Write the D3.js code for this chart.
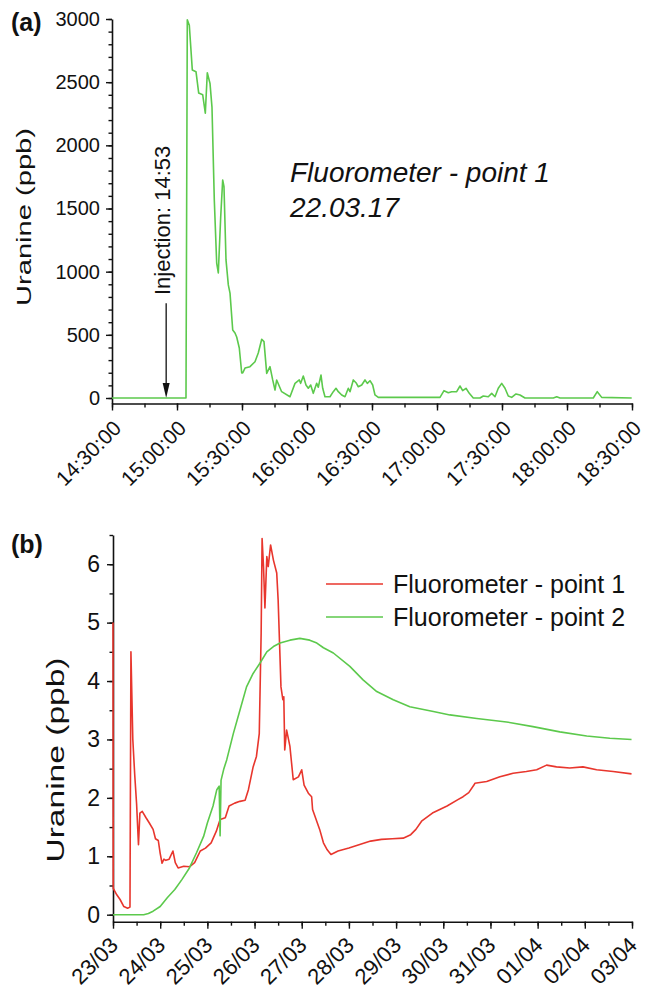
<!DOCTYPE html>
<html>
<head>
<meta charset="utf-8">
<script src="https://cdnjs.cloudflare.com/ajax/libs/d3/7.8.5/d3.min.js"></script>
<style>
  body { margin: 0; background: #fff; }
  svg text { font-family: "Liberation Sans", Arial, sans-serif; fill: #111; }
  .axis path, .axis line { stroke: #111; }
</style>
</head>
<body>
<div id="graph"></div>
<script>
// panel (a) - point 1 on 22.03.17
var aTimes = ["14:30:00","15:04:09","15:04:45","15:05:41","15:07:04","15:08:46","15:10:01","15:11:52","15:13:04",
  "15:13:59","15:15:14","15:16:09","15:17:13","15:18:19","15:19:04","15:20:10","15:21:05","15:21:41","15:22:37",
  "15:23:41","15:24:28","15:25:43","15:26:46","15:27:33","15:28:45","15:29:52","15:30:19","15:31:23","15:33:41",
  "15:36:00","15:37:30","15:39:06","15:40:09","15:41:24","15:42:55","15:44:10","15:45:14","15:46:00","15:48:18",
  "15:52:09","15:54:28","15:56:27","15:57:05","15:58:17","15:59:32","16:00:36","16:01:42","16:02:54","16:04:28",
  "16:05:12","16:06:28","16:07:15","16:08:18","16:10:37","16:12:08","16:13:23","16:14:27","16:16:01","16:17:32",
  "16:19:04","16:19:51","16:21:22","16:22:37","16:23:41","16:25:15","16:26:46","16:27:50","16:29:05","16:30:19",
  "16:31:23","16:32:54","17:01:23","17:03:14","17:05:13","17:06:47","17:09:05","17:10:37","17:11:51","17:13:23",
  "17:14:54","17:16:45","17:19:51","17:21:22","17:23:40","17:25:15","17:26:46","17:28:17","17:29:52","17:31:23",
  "17:32:54","17:34:28","17:36:28","17:38:18","17:40:37","17:53:41","17:55:15","17:56:46","18:12:08","18:13:58",
  "18:16:01","18:29:52"];
var aValues = [0,0,2993,2950,2597,2583,2414,2400,2255,
  2575,2490,2300,1567,1068,990,1433,1726,1673,1093,
  895,830,538,515,483,396,198,198,237,248,
  287,356,465,446,195,248,143,63,143,50,
  10,116,143,116,174,103,77,103,37,116,
  85,182,77,10,10,50,77,50,24,10,
  77,50,143,121,89,103,143,116,137,103,
  24,5,5,58,42,50,50,95,58,77,
  37,0,0,16,10,37,10,77,116,77,
  16,5,32,24,0,0,10,0,0,50,
  5,0];
var injectionTime = "14:55:00";

// panel (b) - days after 23/03/2017 00:00
var startDay = "2017-03-23", endDay = "2017-04-03";
var redDays = [0,0.005,0.08,0.15,0.23,0.31,0.36,0.38,0.42,0.46,0.5,0.54,0.57,0.62,0.7,0.77,0.85,0.9,0.96,1.0,
  1.04,1.08,1.12,1.19,1.27,1.32,1.38,1.5,1.62,1.73,1.85,1.96,2.08,2.19,2.27,2.38,2.46,2.58,2.69,2.8,
  2.87,2.97,3.04,3.1,3.14,3.16,3.19,3.22,3.26,3.29,3.34,3.4,3.47,3.5,3.56,3.6,3.62,3.64,3.68,3.75,
  3.82,3.93,4.0,4.05,4.14,4.21,4.23,4.38,4.46,4.54,4.62,4.77,5.0,5.23,5.46,5.69,5.92,6.15,6.31,6.42,
  6.54,6.77,7.08,7.31,7.42,7.54,7.65,7.67,7.92,8.2,8.48,8.76,8.98,9.19,9.4,9.68,9.96,10.25,10.6,10.99];
var redValues = [5.0,0.45,0.34,0.26,0.14,0.11,0.13,4.5,3.0,2.4,1.9,1.2,1.74,1.77,1.66,1.57,1.46,1.3,1.27,1.05,
  0.88,0.95,0.93,0.95,1.09,0.89,0.8,0.83,0.82,0.89,1.09,1.14,1.23,1.43,1.63,1.66,1.86,1.91,1.94,1.96,
  2.14,2.53,2.71,3.1,4.82,6.44,5.96,5.25,6.13,5.96,6.33,6.07,5.85,5.39,3.9,3.68,3.73,2.82,3.16,2.88,
  2.31,2.36,2.48,2.22,2.08,2.02,1.8,1.46,1.23,1.11,1.03,1.09,1.14,1.2,1.26,1.29,1.3,1.31,1.37,1.46,
  1.6,1.74,1.86,1.97,2.02,2.09,2.22,2.25,2.28,2.36,2.42,2.45,2.48,2.56,2.53,2.51,2.53,2.48,2.45,2.41];
var greenDays = [0,0.65,0.75,0.85,1.0,1.15,1.31,1.46,1.62,1.77,1.92,2.0,2.12,2.2,2.25,2.27,2.29,2.35,2.41,2.55,
  2.69,2.83,2.97,3.11,3.26,3.4,3.54,3.75,3.96,4.17,4.32,4.46,4.67,5.02,5.3,5.59,5.94,6.29,6.79,7.14,
  7.71,8.34,8.9,9.47,10.04,10.53,10.99];
var greenValues = [0,0,0.02,0.06,0.14,0.29,0.43,0.6,0.8,1.06,1.34,1.57,1.86,2.14,2.2,1.35,2.3,2.5,2.65,3.1,
  3.5,3.9,4.13,4.3,4.5,4.59,4.65,4.7,4.73,4.7,4.65,4.57,4.48,4.25,4.02,3.82,3.68,3.56,3.48,3.42,
  3.36,3.3,3.22,3.13,3.06,3.02,3.0];
var seriesNames = ["Fluorometer - point 1", "Fluorometer - point 2"];
var seriesColors = ["#e8362d", "#5cc94c"];

var width = 650, height = 994,
    svg = d3.select('#graph').append('svg')
        .attr('width', width).attr('height', height);

var parseTime = d3.timeParse("%H:%M:%S"),
    parseDay = d3.timeParse("%Y-%m-%d");

// ---------- (a) ----------
var xa = d3.scaleTime()
        .domain([parseTime("14:30:00"), parseTime("18:30:00")])
        .range([112, 632]),
    ya = d3.scaleLinear().domain([-43.5, 3000]).range([403.5, 19]);

var ga = svg.append('g');

// minor ticks
ga.append('g').attr('class', 'axis')
    .attr('transform', 'translate(0,403.5)')
    .call(d3.axisBottom(xa).ticks(d3.timeMinute.every(15)).tickSize(4).tickSizeOuter(0).tickFormat(''))
    .selectAll('path').remove();
ga.append('g').attr('class', 'axis')
    .attr('transform', 'translate(112,0)')
    .call(d3.axisLeft(ya).tickValues(d3.range(0, 3001, 100)).tickSize(3.5).tickSizeOuter(0).tickFormat(''))
    .selectAll('path').remove();

var xAxisA = ga.append('g').attr('class', 'axis')
    .attr('transform', 'translate(0,403.5)')
    .call(d3.axisBottom(xa).ticks(d3.timeMinute.every(30)).tickSize(7).tickSizeOuter(0)
        .tickFormat(d3.timeFormat("%H:%M:%S")));
xAxisA.selectAll('text')
    .attr('x', 0).attr('y', 0).attr('dy', 0)
    .attr('text-anchor', 'end')
    .attr('transform', 'translate(10,26) rotate(-45)')
    .style('font-size', '21px');

var yAxisA = ga.append('g').attr('class', 'axis')
    .attr('transform', 'translate(112,0)')
    .call(d3.axisLeft(ya).tickValues(d3.range(0, 3001, 500)).tickSize(6).tickPadding(6).tickSizeOuter(0)
        .tickFormat(d3.format('d')));
yAxisA.selectAll('text').style('font-size', '20px');
ga.selectAll('.axis path').attr('stroke-width', 1.6);
ga.selectAll('.axis line').attr('stroke-width', 1.4);

var lineA = d3.line()
    .x(function (d) { return xa(d.t); })
    .y(function (d) { return ya(d.v); });
var dataA = aTimes.map(function (t, i) { return {t: parseTime(t), v: aValues[i]}; });

// injection arrow
var injX = xa(parseTime(injectionTime));
ga.append('line')
    .attr('x1', injX).attr('x2', injX)
    .attr('y1', ya(750)).attr('y2', ya(0) - 12)
    .attr('stroke', '#111').attr('stroke-width', 1.3);
ga.append('path')
    .attr('d', 'M' + injX + ',' + ya(0) + 'l-3.5,-15l7,0z')
    .attr('fill', '#111');

ga.append('path').datum(dataA)
    .attr('d', lineA)
    .attr('fill', 'none')
    .attr('stroke', seriesColors[1])
    .attr('stroke-width', 1.6)
    .attr('stroke-linejoin', 'round');

ga.append('text')
    .attr('transform', 'translate(' + (injX + 4) + ',295) rotate(-90)')
    .style('font-size', '22px')
    .text('Injection: 14:53');

ga.append('text')
    .attr('transform', 'translate(31,217) rotate(-90)')
    .attr('text-anchor', 'middle')
    .attr('textLength', 178).attr('lengthAdjust', 'spacingAndGlyphs')
    .style('font-size', '21px')
    .text('Uranine (ppb)');

ga.append('text').attr('x', 290).attr('y', 182)
    .style('font-size', '28px').style('font-style', 'italic')
    .text('Fluorometer - point 1');
ga.append('text').attr('x', 290).attr('y', 217)
    .style('font-size', '28px').style('font-style', 'italic')
    .text('22.03.17');

ga.append('text').attr('x', 11).attr('y', 31)
    .style('font-size', '25px').style('font-weight', 'bold')
    .text('(a)');

// ---------- (b) ----------
var day0 = parseDay(startDay);
function toDate(d) { return new Date(day0.getTime() + d * 86400000); }

var xb = d3.scaleTime().domain([day0, parseDay(endDay)]).range([113, 632]),
    yb = d3.scaleLinear().domain([-0.12, 6.5]).range([921.7, 535]);

var gb = svg.append('g');

gb.append('g').attr('class', 'axis')
    .attr('transform', 'translate(0,921.7)')
    .call(d3.axisBottom(xb).ticks(d3.timeHour.every(12)).tickSize(4).tickSizeOuter(0).tickFormat(''))
    .selectAll('path').remove();
gb.append('g').attr('class', 'axis')
    .attr('transform', 'translate(113,0)')
    .call(d3.axisLeft(yb).tickValues(d3.range(0, 6.51, 0.5)).tickSize(3.5).tickSizeOuter(0).tickFormat(''))
    .selectAll('path').remove();

var xAxisB = gb.append('g').attr('class', 'axis')
    .attr('transform', 'translate(0,921.7)')
    .call(d3.axisBottom(xb).ticks(d3.timeDay.every(1)).tickSize(7).tickSizeOuter(0)
        .tickFormat(d3.timeFormat("%d/%m")));
xAxisB.selectAll('text')
    .attr('x', 0).attr('y', 0).attr('dy', 0)
    .attr('text-anchor', 'end')
    .attr('transform', 'translate(6,25) rotate(-45)')
    .style('font-size', '22px');

var yAxisB = gb.append('g').attr('class', 'axis')
    .attr('transform', 'translate(113,0)')
    .call(d3.axisLeft(yb).tickValues(d3.range(0, 7, 1)).tickSize(6).tickPadding(7).tickSizeOuter(0)
        .tickFormat(d3.format('d')));
yAxisB.selectAll('text').style('font-size', '23px');
gb.selectAll('.axis path').attr('stroke-width', 1.6);
gb.selectAll('.axis line').attr('stroke-width', 1.4);

var lineB = d3.line()
    .x(function (d) { return xb(d.t); })
    .y(function (d) { return yb(d.v); });

var seriesB = [
    redDays.map(function (d, i) { return {t: toDate(d), v: redValues[i]}; }),
    greenDays.map(function (d, i) { return {t: toDate(d), v: greenValues[i]}; })
];

gb.selectAll('path.series')
    .data(seriesB)
    .enter()
    .append('path')
    .attr('class', 'series')
    .attr('d', lineB)
    .attr('fill', 'none')
    .attr('stroke', function (d, i) { return seriesColors[i]; })
    .attr('stroke-width', 1.6)
    .attr('stroke-linejoin', 'round');

// legend
var legend = gb.selectAll('g.legend')
    .data(seriesNames)
    .enter()
    .append('g')
    .attr('class', 'legend')
    .attr('transform', function (d, i) { return 'translate(326,' + (584 + i * 33) + ')'; });
legend.append('line')
    .attr('x1', 0).attr('x2', 57)
    .attr('stroke', function (d, i) { return seriesColors[i]; })
    .attr('stroke-width', 1.6);
legend.append('text')
    .attr('x', 67).attr('y', 9)
    .style('font-size', '25px')
    .text(function (d) { return d; });

gb.append('text')
    .attr('transform', 'translate(64,760) rotate(-90)')
    .attr('text-anchor', 'middle')
    .attr('textLength', 205).attr('lengthAdjust', 'spacingAndGlyphs')
    .style('font-size', '23px')
    .text('Uranine (ppb)');

gb.append('text').attr('x', 11).attr('y', 553)
    .style('font-size', '25px').style('font-weight', 'bold')
    .text('(b)');
</script>
</body>
</html>
